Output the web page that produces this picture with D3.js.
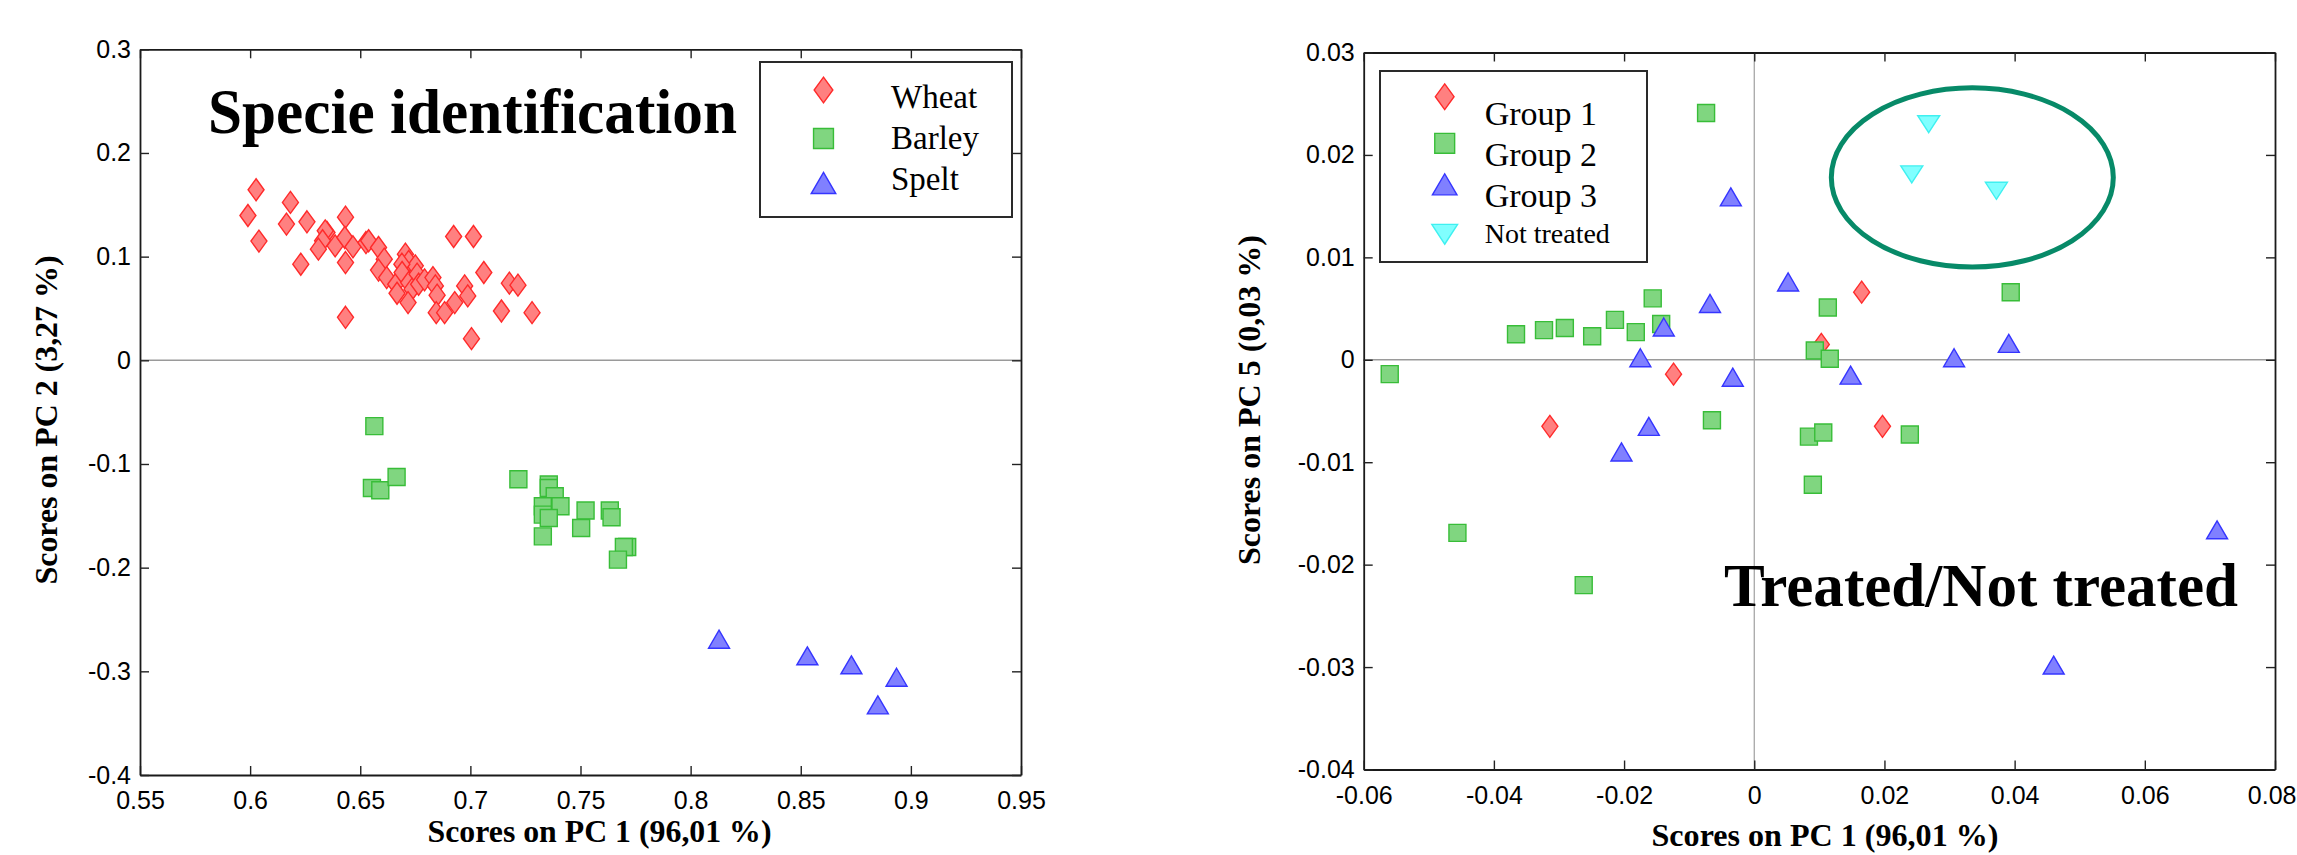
<!DOCTYPE html>
<html><head><meta charset="utf-8">
<script src="https://cdn.jsdelivr.net/npm/d3@7"></script>
<style>body{margin:0;background:#fff}svg{display:block}</style>
</head><body>
<svg id="c" width="2297" height="855"></svg>
<script>
// ---------- DATA (left panel: PC1 vs PC2) ----------
const wheat = [[0.6027,0.1645],[0.5990,0.1397],[0.6040,0.1150],[0.6183,0.1523],[0.6165,0.1314],[0.6258,0.1336],[0.6230,0.0927],[0.6433,0.1381],[0.6349,0.1233],[0.6341,0.1249],[0.6329,0.1153],[0.6310,0.1072],[0.6386,0.1104],[0.6430,0.1185],[0.6467,0.1095],[0.6433,0.0943],[0.6433,0.0415],[0.6526,0.1136],[0.6538,0.1153],[0.6583,0.1088],[0.6609,0.0976],[0.6583,0.0870],[0.6620,0.0798],[0.6661,0.0734],[0.6667,0.0647],[0.6705,0.1024],[0.6720,0.0953],[0.6750,0.0911],[0.6689,0.0927],[0.6690,0.0847],[0.6720,0.0750],[0.6758,0.0831],[0.6735,0.0686],[0.6717,0.0557],[0.6765,0.0734],[0.6792,0.0776],[0.6830,0.0798],[0.6841,0.0718],[0.6849,0.0628],[0.6845,0.0460],[0.6883,0.0460],[0.6929,0.0557],[0.6924,0.1194],[0.7014,0.1194],[0.6974,0.0718],[0.6988,0.0621],[0.7061,0.0847],[0.7005,0.0209],[0.7141,0.0476],[0.7177,0.0744],[0.7216,0.0725],[0.7280,0.0460]];
const barley = [[0.6564,-0.0635],[0.6553,-0.1231],[0.6591,-0.1253],[0.6665,-0.1125],[0.7218,-0.1147],[0.7356,-0.1198],[0.7356,-0.1231],[0.7383,-0.1311],[0.7409,-0.1408],[0.7329,-0.1408],[0.7329,-0.1488],[0.7356,-0.1521],[0.7329,-0.1698],[0.7523,-0.1449],[0.7503,-0.1617],[0.7633,-0.1449],[0.7641,-0.1514],[0.7712,-0.1801],[0.7697,-0.1801],[0.7670,-0.1923]];
const spelt = [[0.8129,-0.2690],[0.8530,-0.2850],[0.8730,-0.2937],[0.8935,-0.3057],[0.8850,-0.3324]];
const leftXTicks = [0.55,0.6,0.65,0.7,0.75,0.8,0.85,0.9,0.95];
const leftXTickLabels = ["0.55","0.6","0.65","0.7","0.75","0.8","0.85","0.9","0.95"];
const leftYTicks = [0.3,0.2,0.1,0,-0.1,-0.2,-0.3,-0.4];
const leftYTickLabels = ["0.3","0.2","0.1","0","-0.1","-0.2","-0.3","-0.4"];
const leftLegend = ["Wheat","Barley","Spelt"];

// ---------- DATA (right panel: PC1 vs PC5) ----------
const group1 = [[-0.0124,-0.0014],[-0.0314,-0.0065],[0.0165,0.0066],[0.0103,0.0015],[0.0197,-0.0065]];
const group2 = [[-0.0074,0.0241],[-0.0560,-0.0014],[-0.0366,0.0025],[-0.0323,0.0029],[-0.0291,0.0031],[-0.0249,0.0023],[-0.0214,0.0039],[-0.0182,0.0027],[-0.0156,0.0060],[-0.0143,0.0035],[-0.0065,-0.0059],[0.0084,-0.0075],[0.0093,0.0009],[0.0113,0.0051],[0.0116,0.0001],[0.0106,-0.0071],[0.0239,-0.0073],[0.0394,0.0066],[-0.0456,-0.0169],[-0.0262,-0.0220],[0.0090,-0.0122]];
const group3 = [[-0.0036,0.0159],[0.0052,0.0076],[-0.0068,0.0055],[-0.0139,0.0032],[-0.0175,0.0002],[-0.0033,-0.0017],[-0.0162,-0.0065],[-0.0204,-0.0090],[0.0148,-0.0015],[0.0307,0.0002],[0.0391,0.0016],[0.0711,-0.0166],[0.0460,-0.0298]];
const notTreated = [[0.0268,0.0230],[0.0242,0.0181],[0.0372,0.0165]];
const ellipseCenter = [0.0335,0.0178];
const ellipseRadii = [0.02166,0.00875];
const rightXTicks = [-0.06,-0.04,-0.02,0,0.02,0.04,0.06,0.08];
const rightXTickLabels = ["-0.06","-0.04","-0.02","0","0.02","0.04","0.06","0.08"];
const rightYTicks = [0.03,0.02,0.01,0,-0.01,-0.02,-0.03,-0.04];
const rightYTickLabels = ["0.03","0.02","0.01","0","-0.01","-0.02","-0.03","-0.04"];
const rightLegend = ["Group 1","Group 2","Group 3","Not treated"];

// ---------- STYLES ----------
const SANS = "'Liberation Sans', Arial, Helvetica, sans-serif";
const SERIF = "'Liberation Serif', 'Times New Roman', Times, serif";
const styles = {
  diamond: {fill:"#ff8080", stroke:"#ff2a2a", w:16, h:22},
  square:  {fill:"#80d680", stroke:"#38bd38", w:17, h:17},
  triUp:   {fill:"#8080ff", stroke:"#3535ff", w:21, h:18},
  triDown: {fill:"#80ffff", stroke:"#3ff0f0", w:22, h:17}
};
function markerPath(type, s) {
  const st = styles[type], w = st.w*s/2, h = st.h*s/2;
  if (type === "diamond") return `M0,${-h}L${w},0L0,${h}L${-w},0Z`;
  if (type === "square") return `M${-w},${-h}H${w}V${h}H${-w}Z`;
  if (type === "triUp") return `M0,${-h}L${w},${h}L${-w},${h}Z`;
  return `M0,${h}L${w},${-h}L${-w},${-h}Z`;
}

const svg = d3.select("#c");
const W = +svg.attr("width");

function panel(cfg) {
  const x = d3.scaleLinear().domain(cfg.xDomain).range(cfg.xRange);
  const y = d3.scaleLinear().domain(cfg.yDomain).range(cfg.yRange);
  const g = svg.append("g");
  const [x0, x1] = cfg.xRange, [y0, y1] = cfg.yRange; // y0 bottom, y1 top

  // zero lines
  g.append("line").attr("x1", x0).attr("x2", x1).attr("y1", y(0)).attr("y2", y(0))
    .attr("stroke", "#9a9a9a").attr("stroke-width", 1.6);
  if (cfg.vZero) g.append("line").attr("x1", x(0)).attr("x2", x(0)).attr("y1", y0).attr("y2", y1)
    .attr("stroke", "#a0a0a0").attr("stroke-width", 1.2);

  const fmtX = (d, i) => cfg.xLabels[i], fmtY = (d, i) => cfg.yLabels[i];
  const axes = [
    [d3.axisBottom(x).tickValues(cfg.xTicks).tickFormat(fmtX).tickPadding(cfg.xPad), `translate(0,${y0})`, true],
    [d3.axisTop(x).tickValues(cfg.xTicks).tickFormat(""), `translate(0,${y1})`, false],
    [d3.axisLeft(y).tickValues(cfg.yTicks).tickFormat(fmtY).tickPadding(9), `translate(${x0},0)`, false],
    [d3.axisRight(y).tickValues(cfg.yTicks).tickFormat(""), `translate(${x1},0)`, false]
  ];
  axes.forEach(([ax, tr, isBottom]) => {
    const a = g.append("g").attr("transform", tr)
      .call(ax.tickSizeInner(-9).tickSizeOuter(0));
    a.attr("font-family", SANS).attr("font-size", 25);
    a.select(".domain").attr("stroke", "#1a1a1a").attr("stroke-width", 1.8);
    a.selectAll(".tick line").attr("stroke", "#222").attr("stroke-width", 1.4);
    a.selectAll("text").attr("fill", "#000");
    if (isBottom) {
      // keep the last label inside the picture if it would run past the right edge
      a.selectAll(".tick text").each(function(d) {
        const bb = this.getBBox();
        const right = x(d) + bb.x + bb.width;
        if (right > W - 1) d3.select(this).attr("dx", (W - 1 - right) + "px");
      });
    }
  });

  // points
  cfg.series.forEach(s => {
    const st = styles[s.type];
    g.append("g").selectAll("path").data(s.data).join("path")
      .attr("d", markerPath(s.type, 1))
      .attr("transform", d => `translate(${x(d[0])},${y(d[1])})`)
      .attr("fill", st.fill).attr("stroke", st.stroke).attr("stroke-width", 1.4);
  });
  return {x, y, g};
}

// ---------- LEFT PANEL ----------
const L = panel({
  xDomain: [0.55, 0.95], xRange: [140, 1021],
  yDomain: [-0.4, 0.3], yRange: [775, 49.3],
  xTicks: leftXTicks, xLabels: leftXTickLabels, yTicks: leftYTicks, yLabels: leftYTickLabels,
  xPad: 16, vZero: false,
  series: [{type:"diamond", data: wheat},{type:"square", data: barley},{type:"triUp", data: spelt}]
});

// ---------- RIGHT PANEL ----------
const R = panel({
  xDomain: [-0.06, 0.08], xRange: [1363.7, 2275],
  yDomain: [-0.04, 0.03], yRange: [769.5, 52.5],
  xTicks: rightXTicks, xLabels: rightXTickLabels, yTicks: rightYTicks, yLabels: rightYTickLabels,
  xPad: 17, vZero: true,
  series: [{type:"diamond", data: group1},{type:"square", data: group2},{type:"triUp", data: group3},{type:"triDown", data: notTreated}]
});

// ellipse around not treated
R.g.append("ellipse")
  .attr("cx", R.x(ellipseCenter[0])).attr("cy", R.y(ellipseCenter[1]))
  .attr("rx", R.x(ellipseCenter[0] + ellipseRadii[0]) - R.x(ellipseCenter[0]))
  .attr("ry", R.y(ellipseCenter[1]) - R.y(ellipseCenter[1] + ellipseRadii[1]))
  .attr("fill", "none").attr("stroke", "#078a68").attr("stroke-width", 5);

// ---------- TITLES ----------
function txt(x, yy, s, size, weight, len, family, rotate) {
  const t = svg.append("text").attr("font-family", family || SERIF).attr("font-size", size)
    .attr("font-weight", weight).attr("fill", "#000").text(s);
  if (rotate) {
    t.attr("transform", `translate(${x},${yy}) rotate(-90)`).attr("text-anchor", "middle");
  } else {
    t.attr("x", x).attr("y", yy);
  }
  if (len) t.attr("textLength", len).attr("lengthAdjust", "spacingAndGlyphs");
  return t;
}
txt(208, 133, "Specie identification", 63, "bold", 529);
txt(1724, 606, "Treated/Not treated", 62, "bold", 514);

// axis labels
txt(599.5, 842, "Scores on PC 1 (96,01 %)", 32, "bold", 344).attr("text-anchor", "middle");
txt(1825, 846, "Scores on PC 1 (96,01 %)", 32, "bold", 347).attr("text-anchor", "middle");
txt(57, 420, "Scores on PC 2 (3,27 %)", 32, "bold", 329, SERIF, true);
txt(1260, 400, "Scores on PC 5 (0,03 %)", 32, "bold", 330, SERIF, true);

// ---------- LEGENDS ----------
function legend(box, items, types, markerX, textX, markerYs, textYs, sizes) {
  const g = svg.append("g");
  g.append("rect").attr("x", box[0]).attr("y", box[1]).attr("width", box[2]).attr("height", box[3])
    .attr("fill", "#fff").attr("stroke", "#2a2a2a").attr("stroke-width", 2);
  items.forEach((name, i) => {
    const st = styles[types[i]];
    g.append("path").attr("d", markerPath(types[i], 1.17))
      .attr("transform", `translate(${markerX},${markerYs[i]})`)
      .attr("fill", st.fill).attr("stroke", st.stroke).attr("stroke-width", 1.4);
    g.append("text").attr("x", textX).attr("y", textYs[i]).attr("font-family", SERIF)
      .attr("font-size", sizes[i]).attr("fill", "#000").text(name);
  });
}
legend([760, 62, 252, 155], leftLegend, ["diamond","square","triUp"], 823.5, 891,
  [90, 138.5, 183], [107.5, 148.5, 190], [33, 33, 33]);
legend([1380, 71, 267, 191], rightLegend, ["diamond","square","triUp","triDown"], 1444.7, 1484.7,
  [96.7, 143.3, 184.3, 234.3], [124.5, 165.5, 206.8, 243], [34, 34, 34, 28]);
</script>
</body></html>
